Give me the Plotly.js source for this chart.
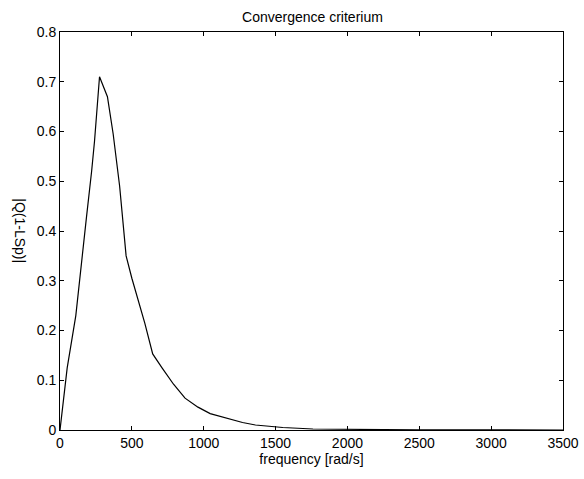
<!DOCTYPE html>
<html>
<head>
<meta charset="utf-8">
<script src="https://cdn.plot.ly/plotly-3.0.1.min.js"></script>
<style>html,body{margin:0;padding:0;background:#fff;}</style>
</head>
<body>
<div id="chart" style="width:584px;height:479px;"></div>
<script>
const frequency = [0, 50, 110, 150, 185, 220, 240, 275, 330, 370, 415, 460, 500, 590, 645, 710, 790, 870, 960, 1045, 1150, 1270, 1360, 1550, 1760, 2000, 2500, 3000, 3500];
const criterium = [0, 0.125, 0.23, 0.33, 0.43, 0.52, 0.58, 0.71, 0.67, 0.595, 0.49, 0.35, 0.305, 0.215, 0.153, 0.125, 0.092, 0.064, 0.046, 0.033, 0.024, 0.015, 0.010, 0.005, 0.002, 0.001, 0.0003, 0.0001, 0.00005];
const xTicks = [0, 500, 1000, 1500, 2000, 2500, 3000, 3500];
const yTicks = [0, 0.1, 0.2, 0.3, 0.4, 0.5, 0.6, 0.7, 0.8];
const yLabel = '|Q(1-LSp)|';

const font = {family: 'Liberation Sans, Arial, sans-serif', size: 14, color: '#000'};
const axisCommon = {
  showline: true, mirror: 'ticks', linecolor: '#000', linewidth: 1,
  ticks: 'inside', ticklen: 4, tickcolor: '#000', showgrid: false, zeroline: false,
  tickfont: font
};
Plotly.newPlot('chart', [{
  x: frequency, y: criterium, type: 'scatter', mode: 'lines',
  line: {color: '#000', width: 1.2}
}], {
  width: 584, height: 479,
  margin: {l: 60, r: 21, t: 32, b: 49},
  paper_bgcolor: '#fff', plot_bgcolor: '#fff',
  showlegend: false,
  font: font,
  title: {text: 'Convergence criterium', font: font, x: 0.535, xanchor: 'center', y: 1 - 17/479, yanchor: 'middle'},
  xaxis: Object.assign({}, axisCommon, {
    range: [0, 3500], tickvals: xTicks, ticktext: xTicks.map(String),
    title: {text: 'frequency [rad/s]', font: font, standoff: 2}
  }),
  yaxis: Object.assign({}, axisCommon, {
    range: [0, 0.8], tickvals: yTicks, ticktext: yTicks.map(v => v === 0 ? '0' : v.toFixed(1))
  }),
  annotations: [{
    text: yLabel, xref: 'paper', yref: 'paper', x: -0.08, y: 0.5,
    xanchor: 'center', yanchor: 'middle', textangle: 90, showarrow: false, font: font
  }]
}, {displayModeBar: false, staticPlot: true});
</script>
</body>
</html>
